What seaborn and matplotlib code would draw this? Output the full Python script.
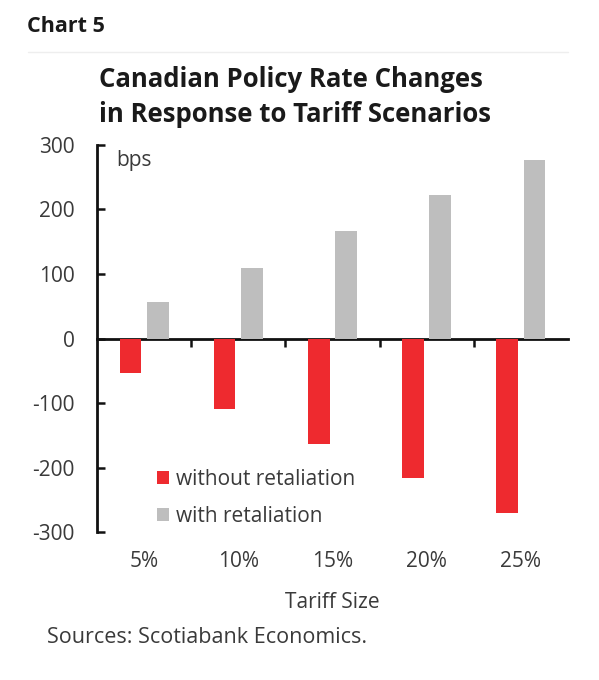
import pandas as pd
import matplotlib.pyplot as plt
import seaborn as sns
from matplotlib.lines import Line2D

# Data (bps)
tariff_sizes = ["5%", "10%", "15%", "20%", "25%"]
without_retaliation = [-54, -109, -163, -217, -271]
with_retaliation = [56, 110, 166, 222, 277]
series_names = ["without retaliation", "with retaliation"]
y_ticks = [-300, -200, -100, 0, 100, 200, 300]

red = "#ee2a2f"
grey = "#bebebe"
text_col = "#3a3a3a"

df = pd.DataFrame({
    "tariff": tariff_sizes * 2,
    "change": without_retaliation + with_retaliation,
    "scenario": [series_names[0]] * len(tariff_sizes) + [series_names[1]] * len(tariff_sizes),
})

sns.set_theme(style="white")
plt.rcParams["font.family"] = ["Open Sans", "DejaVu Sans"]

fig = plt.figure(figsize=(5.99, 6.80), dpi=100)
ax = fig.add_axes([0.162, 0.2176, 0.786, 0.5692])

sns.barplot(data=df, x="tariff", y="change", hue="scenario", hue_order=series_names,
            palette=[red, grey], saturation=1, width=0.58, gap=0.21, linewidth=0, ax=ax)

ax.set_xlim(-0.5, len(tariff_sizes) - 0.5)
ax.set_ylim(-300, 300)
ax.set_yticks(y_ticks)
ax.set_yticklabels([str(v) for v in y_ticks])

# spines
for s in ["top", "right", "bottom"]:
    ax.spines[s].set_visible(False)
ax.spines["left"].set_linewidth(2)
ax.spines["left"].set_color("#111111")

ax.tick_params(axis="y", direction="in", length=6, width=1.8, color="#111111",
               labelsize=15, labelcolor=text_col, pad=16, left=True)
ax.tick_params(axis="x", length=0, labelsize=15, labelcolor=text_col, pad=14)

# zero line with category-boundary ticks
zero_axis = ax.secondary_xaxis(0.5)
zero_axis.set_alignment("bottom")
zero_axis.set_xticks([i + 0.5 for i in range(len(tariff_sizes) - 1)])
zero_axis.tick_params(direction="out", length=6, width=1.8, color="#111111",
                      bottom=True, top=False, labelbottom=False, labeltop=False)
zero_axis.spines["bottom"].set_linewidth(2)
zero_axis.spines["bottom"].set_color("#111111")

ax.set_xlabel("Tariff Size", fontsize=15, color=text_col, labelpad=14)
ax.set_ylabel("")

ax.text(0.040, 0.961, "bps", transform=ax.transAxes, fontsize=15, color=text_col,
        ha="left", va="center")

handles, labels = ax.get_legend_handles_labels()
ax.legend(handles, labels, loc="center left", bbox_to_anchor=(0.127, 0.088),
          frameon=False, fontsize=15, labelcolor=text_col, handlelength=0.58,
          handleheight=0.58, handletextpad=0.35, labelspacing=0.8,
          borderpad=0, borderaxespad=0)

# header
fig.text(0.045, 0.953, "Chart 5", fontsize=15.5, fontweight="bold", color="#1a1a1a",
         va="baseline")
fig.add_artist(Line2D([0.047, 0.948], [0.9235, 0.9235], color="#eeeeee", lw=1))
fig.text(0.165, 0.872, "Canadian Policy Rate Changes", fontsize=18.5, fontweight="bold",
         color="#1a1a1a", va="baseline")
fig.text(0.165, 0.8206, "in Response to Tariff Scenarios", fontsize=18.5, fontweight="bold",
         color="#1a1a1a", va="baseline")
fig.text(0.078, 0.0618, "Sources: Scotiabank Economics.", fontsize=15.5, color=text_col,
         va="center")

fig.savefig("out.png", dpi=100, facecolor="white")
